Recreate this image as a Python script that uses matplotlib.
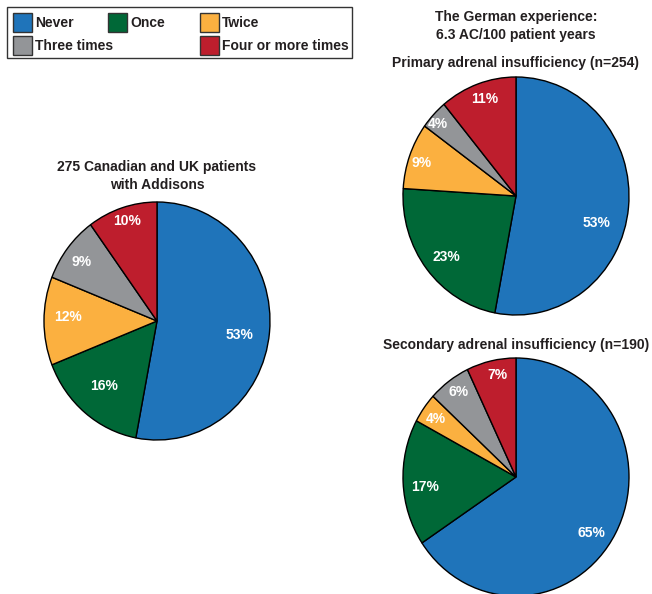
import matplotlib.pyplot as plt
from matplotlib.patches import Rectangle
import numpy as np

plt.rcParams['font.family'] = ['Liberation Sans', 'DejaVu Sans']
plt.rcParams['font.weight'] = 'bold'

# data
categories = ['Never', 'Once', 'Twice', 'Three times', 'Four or more times']
colors = ['#1F74BA', '#006837', '#FBB040', '#939598', '#BE1E2D']
canada_uk = [53, 16, 12, 9, 10]
primary = [53, 23, 9, 4, 11]
secondary = [65, 17, 4, 6, 7]

W, H = 652, 594
fig = plt.figure(figsize=(W / 100, H / 100), dpi=100)
txt = '#231F20'


def fx(x):
    return x / W


def fy(y):
    return 1 - y / H


def draw_pie(cx, cy, values, dists, shifts, rx=113, ry=119):
    # the original pies are slightly taller than wide
    ax = fig.add_axes([fx(cx - rx), fy(cy + ry), 2 * rx / W, 2 * ry / H])
    wedges, _ = ax.pie(values, colors=colors, startangle=90, counterclock=False,
                       wedgeprops=dict(edgecolor='black', linewidth=1))
    for w, v, d, s in zip(wedges, values, dists, shifts):
        ang = np.deg2rad((w.theta1 + w.theta2) / 2 + s)
        ax.text(d * np.cos(ang), d * np.sin(ang), f'{v}%',
                ha='center', va='center', color='white', fontsize=10,
                fontweight='bold')
    ax.set_xlim(-1, 1)
    ax.set_ylim(-1, 1)
    ax.set_aspect('auto')
    ax.axis('off')


# label radius and small angle nudges per slice
draw_pie(157, 321, canada_uk, [0.74, 0.72, 0.79, 0.83, 0.885], [-4, -1, -2.6, 1.4, -0.4])
draw_pie(516, 196, primary, [0.75, 0.80, 0.88, 0.92, 0.86], [-12, 2, 1.4, 2, -1.2])
draw_pie(516, 477, secondary, [0.82, 0.81, 0.86, 0.88, 0.87], [-7, 3.5, 1, -1, -2])

# titles
fig.text(fx(157), fy(176), '275 Canadian and UK patients\nwith Addisons', ha='center',
         va='center', fontsize=10, color=txt, linespacing=1.3)
fig.text(fx(516), fy(26), 'The German experience:\n6.3 AC/100 patient years', ha='center',
         va='center', fontsize=10, color=txt, linespacing=1.35)
fig.text(fx(516), fy(63), 'Primary adrenal insufficiency (n=254)', ha='center',
         va='center', fontsize=10, color=txt)
fig.text(fx(516), fy(345.5), 'Secondary adrenal insufficiency (n=190)', ha='center',
         va='center', fontsize=10, color=txt)

# legend drawn by hand
fig.patches.append(Rectangle((fx(7), fy(58)), 345 / W, 51 / H, transform=fig.transFigure,
                             facecolor='white', edgecolor='#333333', linewidth=1))
leg_pos = [(13, 13), (108, 13), (200, 13), (13, 36), (200, 36)]
for (x, y), lab, c in zip(leg_pos, categories, colors):
    fig.patches.append(Rectangle((fx(x), fy(y + 19)), 19 / W, 19 / H,
                                 transform=fig.transFigure, facecolor=c,
                                 edgecolor='#333333', linewidth=1))
    fig.text(fx(x + 22), fy(y + 10), lab, ha='left', va='center', fontsize=10, color=txt)

fig.savefig('out.png', dpi=100)
